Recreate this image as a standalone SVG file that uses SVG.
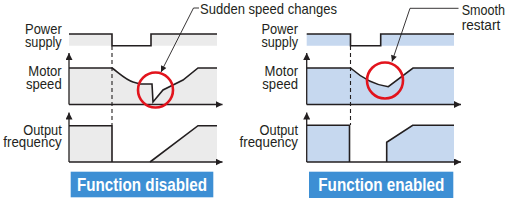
<svg xmlns="http://www.w3.org/2000/svg" width="510" height="200" viewBox="0 0 510 200">
<defs>
<style>
.lbl{font-family:"Liberation Sans",Arial,sans-serif;font-size:15px;fill:#231f20}
.btn{font-family:"Liberation Sans",Arial,sans-serif;font-size:18.5px;font-weight:bold;fill:#ffffff}
.sig{fill:none;stroke:#231f20;stroke-width:1.6;stroke-linejoin:miter}
.ax{fill:none;stroke:#231f20;stroke-width:1.3}
.dash{fill:none;stroke:#231f20;stroke-width:1.1;stroke-dasharray:4 3}
.lead{fill:none;stroke:#231f20;stroke-width:0.9}
.gray{fill:#ebebeb}
.blue{fill:#c6d8ef}
.ring{fill:none;stroke:#e2141d;stroke-width:2.6}
.bbg{fill:#3d8fd4}
</style>
<marker id="axh" viewBox="0 0 10 10" refX="10" refY="5" markerWidth="7" markerHeight="7" markerUnits="userSpaceOnUse" orient="auto">
<path d="M0,0 L10,5 L0,10 Z" fill="#231f20"/>
</marker>
<marker id="ldh" viewBox="0 0 10 10" refX="10" refY="5" markerWidth="8" markerHeight="6" markerUnits="userSpaceOnUse" orient="auto">
<path d="M0,0 L10,5 L0,10 Z" fill="#231f20"/>
</marker>
</defs>

<g id="left-panel">
<path class="gray" d="M69,34 H112 V45.7 H151 V34 H217 V45.7 H69 Z"/>
<path class="gray" d="M69,68 H112 C120,74 126,80 133,82 L140,84 L152,84 L153,102 L163,90 L183,80 L198,68 H217 V104.5 H69 Z"/>
<path class="gray" d="M69,125.7 H112 V162 H69 Z"/>
<path class="gray" d="M150,162 L198,125.7 H217 V162 Z"/>
<path class="sig" d="M69,34 H112 V45.7 H151 V34 H217"/>
<path class="sig" d="M69,68 H112 C120,74 126,80 133,82 L140,84 L152,84 L153,102 L163,90 L183,80 L198,68 H217"/>
<path class="sig" d="M69,125.7 H112 V162 M150,162 L198,125.7 H217"/>
<text class="lbl" x="61.7" y="34.3" text-anchor="end" textLength="36.7" lengthAdjust="spacingAndGlyphs">Power</text>
<text class="lbl" x="61.7" y="46.5" text-anchor="end" textLength="36.7" lengthAdjust="spacingAndGlyphs">supply</text>
<text class="lbl" x="61.7" y="76" text-anchor="end" textLength="33.4" lengthAdjust="spacingAndGlyphs">Motor</text>
<text class="lbl" x="61.7" y="88.5" text-anchor="end" textLength="35.7" lengthAdjust="spacingAndGlyphs">speed</text>
<text class="lbl" x="61.7" y="135" text-anchor="end" textLength="38.4" lengthAdjust="spacingAndGlyphs">Output</text>
<text class="lbl" x="61.7" y="147" text-anchor="end" textLength="58.4" lengthAdjust="spacingAndGlyphs">frequency</text>
</g>

<g id="right-panel">
<path class="blue" d="M306.7,34 H350.5 V45.7 H380.7 V34 H454 V45.7 H306.7 Z"/>
<path class="blue" d="M306.7,68 H350.5 C362,78 374,85 388.3,86.7 L413,68 H454 V104.5 H306.7 Z"/>
<path class="blue" d="M306.7,125.3 H349.5 V162 H306.7 Z"/>
<path class="blue" d="M386.7,162 V142.3 L412.7,125.3 H454 V162 Z"/>
<path class="sig" d="M306.7,34 H350.5 V45.7 H380.7 V34 H454"/>
<path class="sig" d="M306.7,68 H350.5 C362,78 374,85 388.3,86.7 L413,68 H454"/>
<path class="sig" d="M306.7,125.3 H349.5 V162 M386.7,162 V142.3 L412.7,125.3 H454"/>
<text class="lbl" x="298" y="34.3" text-anchor="end" textLength="36.5" lengthAdjust="spacingAndGlyphs">Power</text>
<text class="lbl" x="298" y="46.5" text-anchor="end" textLength="36.5" lengthAdjust="spacingAndGlyphs">supply</text>
<text class="lbl" x="298" y="76" text-anchor="end" textLength="33.4" lengthAdjust="spacingAndGlyphs">Motor</text>
<text class="lbl" x="298" y="88.5" text-anchor="end" textLength="35.7" lengthAdjust="spacingAndGlyphs">speed</text>
<text class="lbl" x="298" y="135" text-anchor="end" textLength="38.4" lengthAdjust="spacingAndGlyphs">Output</text>
<text class="lbl" x="298" y="147" text-anchor="end" textLength="58.4" lengthAdjust="spacingAndGlyphs">frequency</text>
</g>

<g id="connectors">
<path class="ax" d="M69,104.5 V53" marker-end="url(#axh)"/>
<path class="ax" d="M69,104.5 H222.5" marker-end="url(#axh)"/>
<path class="ax" d="M69,162 V112.5" marker-end="url(#axh)"/>
<path class="ax" d="M69,162 H222.5" marker-end="url(#axh)"/>
<path class="dash" d="M112,46 V125"/>
<path class="ax" d="M306.7,104.5 V53" marker-end="url(#axh)"/>
<path class="ax" d="M306.7,104.5 H461" marker-end="url(#axh)"/>
<path class="ax" d="M306.7,162 V112.5" marker-end="url(#axh)"/>
<path class="ax" d="M306.7,162 H461" marker-end="url(#axh)"/>
<path class="dash" d="M350.5,46 V125"/>
<path class="lead" d="M199,8 H193.5 L161,72" marker-end="url(#ldh)"/>
<path class="lead" d="M458.5,8.3 H410 L392,61.5" marker-end="url(#ldh)"/>
</g>

<g id="ring-left"><circle class="ring" cx="155.5" cy="90" r="17.5"/></g>
<g id="ring-right"><circle class="ring" cx="385" cy="80.5" r="18"/></g>

<g id="callout-left">
<text class="lbl" x="200" y="13.5" textLength="137" lengthAdjust="spacingAndGlyphs">Sudden speed changes</text>
</g>
<g id="callout-right">
<text class="lbl" x="461.7" y="15" textLength="43.3" lengthAdjust="spacingAndGlyphs">Smooth</text>
<text class="lbl" x="461.7" y="29.5" textLength="38.5" lengthAdjust="spacingAndGlyphs">restart</text>
</g>

<g id="btn-disabled">
<rect class="bbg" x="70.7" y="171.7" width="142.6" height="25.6"/>
<text class="btn" x="142" y="190.7" text-anchor="middle" textLength="130" lengthAdjust="spacingAndGlyphs">Function disabled</text>
</g>
<g id="btn-enabled">
<rect class="bbg" x="309" y="171.7" width="144.3" height="26.3"/>
<text class="btn" x="381.3" y="190.7" text-anchor="middle" textLength="126" lengthAdjust="spacingAndGlyphs">Function enabled</text>
</g>
</svg>
